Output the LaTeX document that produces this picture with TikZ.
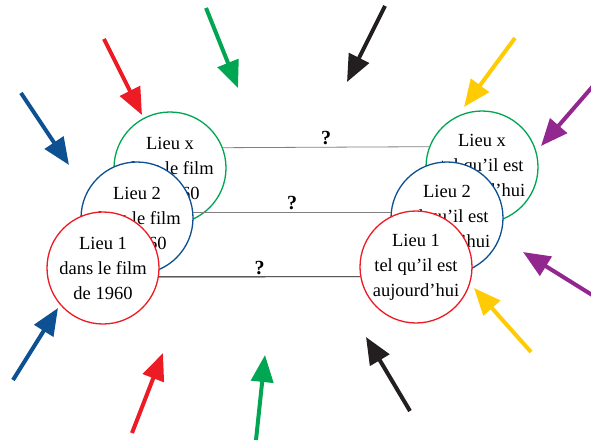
\documentclass[tikz,border=0pt]{standalone}
\usepackage{fontspec}
\setmainfont{Liberation Serif}
\usepackage{tikz}
\usetikzlibrary{arrows.meta}
\definecolor{lieured}{HTML}{ED1C24}
\definecolor{lieugreen}{HTML}{00A651}
\definecolor{lieublue}{HTML}{0D5192}
\definecolor{lieublack}{HTML}{231F20}
\definecolor{lieuyellow}{HTML}{FFCB05}
\definecolor{lieupurple}{HTML}{92278F}
\begin{document}
\begin{tikzpicture}[x=1pt, y=-1pt,
  lieu/.style={draw=#1, circle, line width=1.3pt, fill=white, minimum size=112pt, inner sep=0pt,
    align=center, font=\fontsize{18.5}{25}\selectfont},
  link/.style={line width=0.8pt},
  ask/.style={font=\fontsize{20}{20}\selectfont\bfseries, above, inner sep=2pt},
  shot/.style={draw=#1, line width=4pt, -{Triangle[length=27pt, width=22pt]}}]
\useasboundingbox (0,0) rectangle (591,441);
\clip (0,0) rectangle (591,441);
% film 1960 (left) and today (right)
\node[lieu=lieugreen] (fx) at (170,168) {Lieu x\\dans le film\\de 1960};
\node[lieu=lieugreen] (ax) at (482,167) {Lieu x\\tel qu'il est\\aujourd'hui};
\draw[link, gray] (fx.21) -- node[ask, black] (qx) {?} (ax.159);
\node[lieu=lieublue] (f2) at (137,218) {Lieu 2\\dans le film\\de 1960};
\node[lieu=lieublue] (a2) at (447,218) {Lieu 2\\tel qu'il est\\aujourd'hui};
\draw[link, gray] (f2.6) -- node[ask, black] (q2) {?} (a2.174);
\node[lieu=lieured] (f1) at (103,268) {Lieu 1\\dans le film\\de 1960};
\node[lieu=lieured] (a1) at (416,267) {Lieu 1\\tel qu'il est\\aujourd'hui};
\draw[link, black] (f1.-9) -- node[ask] (q1) {?} (a1.190);
% arrows pointing in
\foreach \name/\col/\xa/\ya/\xb/\yb in {
    bt/lieublue/21/93/69/165, rt/lieured/104/39/142/115, gt/lieugreen/206/8/238/88,
    kt/lieublack/385/6/347/82, yt/lieuyellow/515/38/464/107, pt/lieupurple/600/78/541/146,
    pb/lieupurple/605/303/523/252, yb/lieuyellow/531/352/474/288, kb/lieublack/410/411/366/337,
    gb/lieugreen/256/440/265/355, rb/lieured/132/433/163/353, bb/lieublue/13/380/58/308} {
  \coordinate (\name-from) at (\xa,\ya);
  \coordinate (\name-to) at (\xb,\yb);
  \draw[shot=\col] (\name-from) -- (\name-to);
}
\end{tikzpicture}
\end{document}
